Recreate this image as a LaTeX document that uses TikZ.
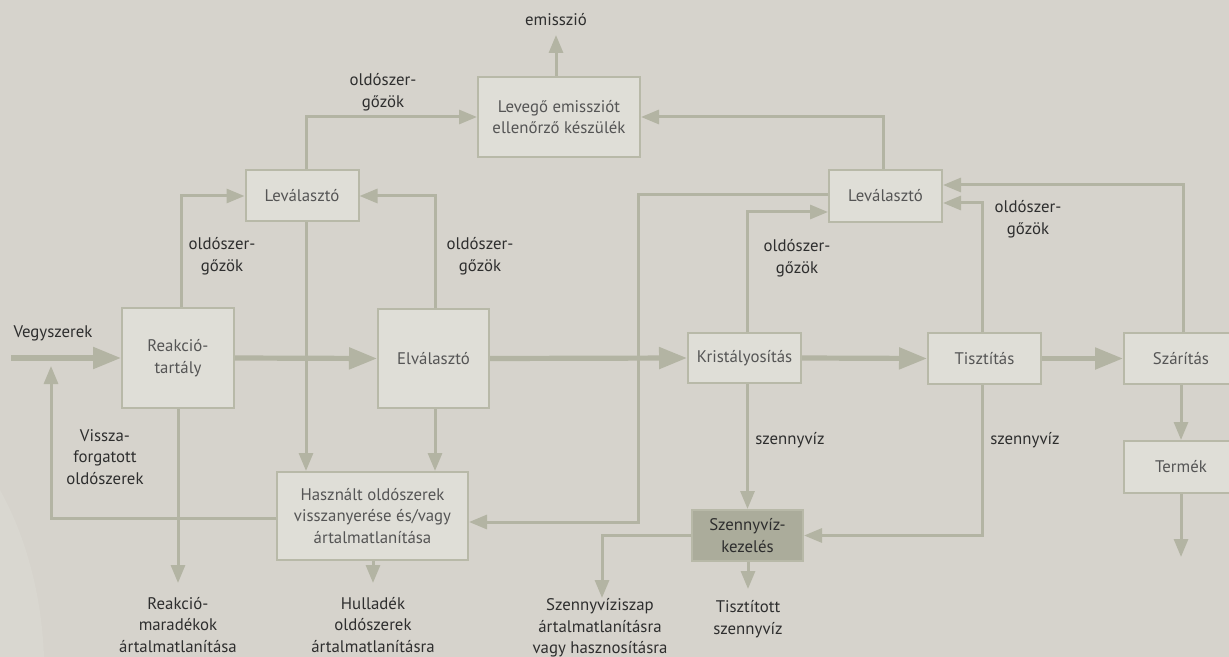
\documentclass[tikz,border=0pt]{standalone}
\usepackage{fontspec}
\setmainfont{PT Sans}
\usetikzlibrary{arrows.meta,calc}
\definecolor{bgc}{HTML}{D6D3CC}
\definecolor{blob}{HTML}{D9D7D0}
\definecolor{boxfill}{HTML}{DFDED7}
\definecolor{boxline}{HTML}{B8B9A8}
\definecolor{arr}{HTML}{B3B4A3}
\definecolor{darkbox}{HTML}{ABAC9B}
\definecolor{lbl}{HTML}{2E2E2E}
\definecolor{btxt}{HTML}{555555}
\tikzset{
  procbox/.style={draw=boxline, line width=1pt, fill=boxfill, text=btxt, align=center, inner sep=0pt, font=\fontsize{8.4}{10.8}\selectfont},
  darkproc/.style={procbox, fill=darkbox, text=lbl},
  lbltext/.style={text=lbl, align=center, inner sep=0pt, font=\fontsize{8.4}{10.8}\selectfont},
  thinarrow/.style={draw=arr, line width=1.5pt, -{Triangle[length=9pt,width=7pt]}, arr},
  thickarrow/.style={draw=arr, line width=2.6pt, -{Triangle[length=14pt,width=10.5pt]}, arr},
}
\begin{document}
\begin{tikzpicture}[x=0.5pt,y=-0.5pt]
\useasboundingbox (0,0) rectangle (1229,657);
\fill[bgc] (0,0) rectangle (1229,657);
\fill[blob] (0,490) .. controls (28,540) and (42,600) .. (44,657) -- (0,657) -- cycle;

% process boxes
\node[procbox, minimum width=56pt, minimum height=50pt] (reak) at (178,358) {Reakció-\\tartály};
\node[procbox, minimum width=56.5pt, minimum height=25.5pt] (lev1) at (302,196) {Leválasztó};
\node[procbox, minimum width=81pt, minimum height=40pt] (levego) at (559,117) {Levegő emissziót\\ellenőrző készülék};
\node[procbox, minimum width=55.5pt, minimum height=49.5pt] (elv) at (433.5,358.5) {Elválasztó};
\node[procbox, minimum width=95.5pt, minimum height=44pt] (hasz) at (372.5,516) {Használt oldószerek\\visszanyerése és/vagy\\ártalmatlanítása};
\node[procbox, minimum width=56.5pt, minimum height=25pt] (krist) at (744.5,358) {Kristályosítás};
\node[procbox, minimum width=56.5pt, minimum height=26pt] (lev2) at (885.5,196) {Leválasztó};
\node[procbox, minimum width=56.5pt, minimum height=25.5pt] (tiszt) at (984.5,358.5) {Tisztítás};
\node[procbox, minimum width=57pt, minimum height=25.5pt] (szar) at (1181,358.5) {Szárítás};
\node[procbox, minimum width=57pt, minimum height=26pt] (termek) at (1181,467) {Termék};
\node[darkproc, minimum width=55.5pt, minimum height=25.5pt] (szenny) at (747.5,535.5) {Szennyvíz-\\kezelés};

% labels
\node[lbltext] (vegy) at (53,333) {Vegyszerek};
\node[lbltext] (emis) at (556,20) {emisszió};
\node[lbltext] (ogz1) at (383,92) {oldószer-\\gőzök};
\node[lbltext] (ogz2) at (222,256) {oldószer-\\gőzök};
\node[lbltext] (ogz3) at (480,256) {oldószer-\\gőzök};
\node[lbltext] (ogz4) at (797,258) {oldószer-\\gőzök};
\node[lbltext] (ogz5) at (1028,219) {oldószer-\\gőzök};
\node[lbltext] (vissza) at (105,457) {Vissza-\\forgatott\\oldószerek};
\node[lbltext] (szv1) at (790,440) {szennyvíz};
\node[lbltext] (szv2) at (1025,440) {szennyvíz};
\node[lbltext] (reakmar) at (178,625) {Reakció-\\maradékok\\ártalmatlanítása};
\node[lbltext] (hull) at (373,625) {Hulladék\\oldószerek\\ártalmatlanításra};
\node[lbltext] (iszap) at (600,628) {Szennyvíziszap\\ártalmatlanításra\\vagy hasznosításra};
\node[lbltext] (tisztv) at (748,619) {Tisztított\\szennyvíz};

% free ends
\coordinate (vin) at (11,358);
\coordinate (emisT) at (556,35);
\coordinate (recT) at (51,366);
\coordinate (recC) at (51,518);
\coordinate (reakT) at (178,583);
\coordinate (hullT) at (373,583);
\coordinate (iszapT) at (602,598);
\coordinate (tisztT) at (748,589);
\coordinate (termT) at (1181,557);
\coordinate (midV) at (638,522);
\coordinate (xa) at (181,0);
\coordinate (xb) at (306,0);
\coordinate (xc) at (435,0);
\coordinate (xd) at (883,0);
\coordinate (xe) at (747,0);
\coordinate (xf) at (982,0);
\coordinate (xg) at (1183,0);

% main flow
\draw[thickarrow] (vin) -- (reak.west);
\draw[thickarrow] (reak.east) -- (elv.west);
\draw[thickarrow] (elv.east) -- (krist.west);
\draw[thickarrow] (krist.east) -- (tiszt.west);
\draw[thickarrow] (tiszt.east) -- (szar.west);

% vapour lines
\draw[thinarrow] (reak.north -| xa) |- (lev1.west);
\draw[thinarrow] (lev1.north -| xb) |- (levego.west);
\draw[thinarrow] (elv.north -| xc) |- (lev1.east);
\draw[thinarrow] (levego.north -| emisT) -- (emisT);
\draw[thinarrow] (lev2.north -| xd) |- (levego.east);
\draw[thinarrow] (krist.north -| xe) |- ($(lev2.west)+(0,16)$);
\draw[thinarrow] (tiszt.north -| xf) |- ($(lev2.east)+(0,7)$);
\draw[thinarrow] (szar.north -| xg) |- ($(lev2.east)+(0,-11)$);

% down lines
\draw[thinarrow] (lev1.south -| xb) -- (hasz.north -| xb);
\draw[thinarrow] (elv.south -| xc) -- (hasz.north -| xc);
\draw[thinarrow] ($(lev2.west)+(0,-1)$) -| (midV) -- (midV -| hasz.east);
\draw[thinarrow] (reak.south -| reakT) -- (reakT);
\draw[thinarrow] (hasz.south -| hullT) -- (hullT);
\draw[thinarrow] (hasz.west |- recC) -- (recC) -- (recT);
\draw[thinarrow] (krist.south -| szenny.north) -- (szenny.north);
\draw[thinarrow] (tiszt.south -| xf) |- (szenny.east);
\draw[thinarrow] (szenny.west) -| (iszapT);
\draw[thinarrow] (szenny.south -| tisztT) -- (tisztT);
\draw[thinarrow] (szar.south) -- (termek.north);
\draw[thinarrow] (termek.south) -- (termT);
\end{tikzpicture}
\end{document}
